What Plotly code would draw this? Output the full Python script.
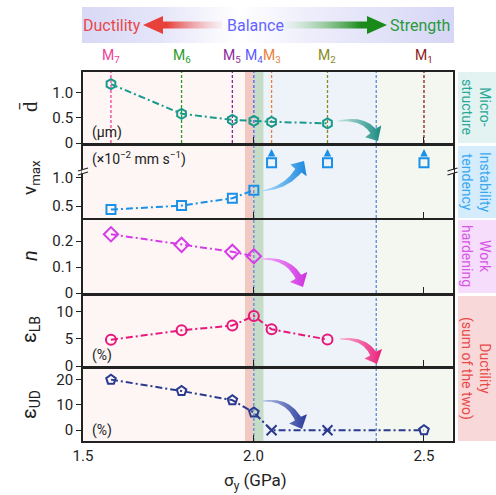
import numpy as np
import plotly.graph_objects as go

# ---------------- data ----------------
sample_labels = ["7", "6", "5", "4", "3", "2", "1"]
sample_colors = ["#f0409a", "#2a9a2a", "#8a2a9a", "#5a5aff", "#e8803a", "#8a8a1a", "#8b1a1a"]
sigma_y = [1.582, 1.789, 1.938, 2.001, 2.053, 2.217, 2.500]        # GPa, M7..M1

d_bar = [1.17, 0.58, 0.46, 0.44, 0.42, 0.39]                        # um, M7..M2
v_max = [0.44, 0.51, 0.64, 0.78]                                    # x1e-2 mm/s, M7..M4
v_max_unstable = [1.26, 1.26, 1.26]                                 # M3, M2, M1 (off-scale)
n_hard = [0.227, 0.186, 0.159, 0.142]                               # M7..M4
eps_LB = [4.87, 6.6, 7.5, 9.26, 6.8, 4.9]                           # %, M7..M2
eps_UD = [20.0, 15.5, 11.9, 7.0, 0.0, 0.0, 0.0]                     # %, M7..M1
eps_UD_symbols = ["pentagon-open"] * 4 + ["x-thin-open"] * 2 + ["pentagon-open"]

region_edges = [1.5, 1.975, 2.0, 2.03, 2.36, 2.5836]
region_colors = ["#fdf6f5", "#efc9c2", "#c4dcc8", "#eef2f9", "#f3f7ef"]
boundary_sigma = 2.36

W, H = 496, 495
FONT = "Roboto"

def px(x):
    return x / W

def py(y):
    return 1 - y / H

# panel pixel extents (top, bottom)
panels = [(72, 143), (146, 218), (220, 293), (296, 366), (369, 441)]
x_left, x_right = 83, 452.5
y_ranges = [[0, 1.41], [0.293, 1.553], [0, 0.282], [0, 12.96], [-4.25, 24.2]]
y_ticks = [[0, 0.5, 1.0], [0.5, 1.0], [0, 0.1, 0.2], [0, 5, 10], [0, 10, 20]]
y_ticktext = [["0", "0.5", "1.0"], ["0.5", "1.0"], ["0", "0.1", "0.2"], ["0", "5", "10"], ["0", "10", "20"]]

fig = go.Figure()
layout = dict(
    template="none",
    width=W, height=H, margin=dict(l=0, r=0, t=0, b=0, pad=0, autoexpand=False),
    paper_bgcolor="white", plot_bgcolor="rgba(0,0,0,0)",
    showlegend=False, font=dict(family=FONT, size=14, color="#222"),
)
for i, (top, bot) in enumerate(panels):
    k = "" if i == 0 else str(i + 1)
    layout["xaxis" + k] = dict(
        domain=[px(x_left), px(x_right)], range=[1.5, 2.5836], anchor="y" + k, automargin=False,
        tickvals=[1.5, 2.0, 2.5], ticktext=["1.5", "2.0", "2.5"], ticks="inside", ticklen=6,
        tickcolor="#222", tickwidth=1.2, showticklabels=(i == 4), showline=True, mirror=True,
        linecolor="#222", linewidth=1.6, showgrid=False, zeroline=False,
        tickfont=dict(size=15, family=FONT, color="#222"),
        matches=None if i == 0 else "x",
    )
    layout["yaxis" + k] = dict(
        domain=[py(bot), py(top)], range=y_ranges[i], anchor="x" + k, automargin=False,
        tickvals=y_ticks[i], ticktext=y_ticktext[i], ticks="outside", ticklen=5, tickwidth=1.2,
        tickcolor="#222", showline=True, mirror=True, linecolor="#222", linewidth=1.6,
        showgrid=False, zeroline=False, tickfont=dict(size=15, family=FONT, color="#222"),
    )
# overlay pixel axes
layout["xaxis6"] = dict(domain=[0, 1], range=[0, W], anchor="y6", visible=False, fixedrange=True, automargin=False)
layout["yaxis6"] = dict(domain=[0, 1], range=[H, 0], anchor="x6", visible=False, fixedrange=True, automargin=False)
fig.update_layout(**layout)

DASH = "7px,3px,2px,3px"

# ---------------- traces ----------------
fig.add_trace(go.Scatter(x=sigma_y[:6], y=d_bar, mode="lines+markers", xaxis="x", yaxis="y",
                         line=dict(color="#1a9a8c", width=2, dash=DASH),
                         marker=dict(symbol="hexagon-open", size=10, color="#1a9a8c", line=dict(width=2))))
fig.add_trace(go.Scatter(x=sigma_y[:4], y=v_max, mode="lines+markers", xaxis="x2", yaxis="y2",
                         line=dict(color="#1a90e8", width=2, dash=DASH),
                         marker=dict(symbol="square-open", size=9, color="#1a90e8", line=dict(width=2))))
fig.add_trace(go.Scatter(x=sigma_y[4:], y=v_max_unstable, mode="markers", xaxis="x2", yaxis="y2",
                         marker=dict(symbol="square-open", size=9, color="#1a90e8", line=dict(width=2))))
fig.add_trace(go.Scatter(x=sigma_y[:4], y=n_hard, mode="lines+markers", xaxis="x3", yaxis="y3",
                         line=dict(color="#d63ce8", width=2, dash=DASH),
                         marker=dict(symbol="diamond-open", size=11, color="#d63ce8", line=dict(width=2))))
fig.add_trace(go.Scatter(x=sigma_y[:6], y=eps_LB, mode="lines+markers", xaxis="x4", yaxis="y4",
                         line=dict(color="#e8177a", width=2, dash=DASH),
                         marker=dict(symbol="circle-open", size=10, color="#e8177a", line=dict(width=2))))
fig.add_trace(go.Scatter(x=sigma_y, y=eps_UD, mode="lines+markers", xaxis="x5", yaxis="y5",
                         line=dict(color="#2a3a8f", width=2, dash=DASH),
                         marker=dict(symbol=eps_UD_symbols, size=10, color="#2a3a8f", line=dict(width=2))))

# ---------------- shapes ----------------
shapes = []
for i in range(5):
    k = "" if i == 0 else str(i + 1)
    for j in range(len(region_colors)):
        shapes.append(dict(type="rect", xref="x" + k, yref="y" + k + " domain",
                           x0=region_edges[j], x1=region_edges[j + 1], y0=0, y1=1,
                           fillcolor=region_colors[j], line=dict(width=0), layer="below"))
    if i == 0:
        for xs, c in zip(sigma_y, sample_colors):
            shapes.append(dict(type="line", xref="x", yref="y domain", x0=xs, x1=xs, y0=0, y1=1,
                               line=dict(color=c, width=1.3, dash="3px,2px"), layer="below"))
    else:
        shapes.append(dict(type="line", xref="x" + k, yref="y" + k + " domain", x0=sigma_y[3], x1=sigma_y[3],
                           y0=0, y1=1, line=dict(color="#5b8bd8", width=1.3, dash="3px,2px"), layer="below"))
    shapes.append(dict(type="line", xref="x" + k, yref="y" + k + " domain", x0=boundary_sigma, x1=boundary_sigma,
                       y0=0, y1=1, line=dict(color="#5b8bd8", width=1.3, dash="3px,2px"), layer="below"))

# right-side category boxes
boxes = [(72, 143, "#e2f3f1"), (146, 218, "#d4ecfb"), (220, 293, "#f5ddfb"), (296, 441, "#f8d8d8")]
for t, b, c in boxes:
    shapes.append(dict(type="rect", xref="x6", yref="y6", x0=458, x1=496, y0=t, y1=b,
                       fillcolor=c, line=dict(width=0), layer="below"))

# axis break marks on v_max panel
for xb in (x_left, x_right):
    shapes.append(dict(type="rect", xref="x6", yref="y6", x0=xb - 1.5, x1=xb + 1.5, y0=169.5, y1=173.5,
                       fillcolor="white", line=dict(width=0), layer="above"))
    for yb in (169.5, 173.5):
        shapes.append(dict(type="line", xref="x6", yref="y6", x0=xb - 5, x1=xb + 5, y0=yb + 1.5, y1=yb - 1.5,
                           line=dict(color="#222", width=1.2), layer="above"))
fig.update_layout(shapes=shapes)

# ---------------- decorative arrows (pixel coords) ----------------
def curved_arrow(p0, c, p1, w0, w1, hl, hw):
    p0, c, p1 = map(np.array, (p0, c, p1))
    t = np.linspace(0, 1, 300)[:, None]
    pts = (1 - t) ** 2 * p0 + 2 * (1 - t) * t * c + t ** 2 * p1
    seg = np.linalg.norm(np.diff(pts, axis=0), axis=1)
    from_end = np.concatenate([np.cumsum(seg[::-1])[::-1], [0]])
    ib = np.argmax(from_end <= hl)
    body = pts[: ib + 1]
    tt = t[: ib + 1]
    d = 2 * (1 - tt) * (c - p0) + 2 * tt * (p1 - c)
    d = d / np.linalg.norm(d, axis=1)[:, None]
    nrm = np.column_stack([-d[:, 1], d[:, 0]])
    w = np.linspace(w0, w1, len(body))[:, None] / 2
    left = body + nrm * w
    right = body - nrm * w
    base = body[-1]
    hn = nrm[-1]
    poly = np.vstack([left, base + hn * hw, p1, base - hn * hw, right[::-1], left[:1]])
    return poly[:, 0], poly[:, 1]

arrows = [
    ((338, 121), (370, 116), (378, 141), "#bfe6e2", "#1a8a80"),
    ((262, 191), (292, 187), (304, 161), "#b0defa", "#1a88e0"),
    ((262, 259), (293, 257), (303, 287), "#f4b0fa", "#cf30e0"),
    ((340, 339), (371, 337), (377, 364), "#f8b0d0", "#e8207a"),
    ((263, 401), (293, 398), (302, 429), "#aebce6", "#2a3a9a"),
]
for p0, c, p1, cl, cd in arrows:
    xs, ys = curved_arrow(p0, c, p1, 1.0, 7, 11, 10)
    fig.add_trace(go.Scatter(x=xs, y=ys, xaxis="x6", yaxis="y6", mode="lines", fill="toself",
                             line=dict(width=0, color=cd),
                             fillgradient=dict(type="horizontal", colorscale=[[0, cl], [1, cd]]),
                             hoverinfo="skip"))

# banner background
fig.add_trace(go.Scatter(x=[82, 454, 454, 82, 82], y=[7, 7, 43, 43, 7], xaxis="x6", yaxis="y6",
                         mode="lines", fill="toself", line=dict(width=0, color="#dcdcf8"),
                         fillgradient=dict(type="horizontal", colorscale=[
                             [0, "#d9d9f7"], [0.2, "#e4e4f9"], [0.42, "#ffffff"], [0.62, "#ededfb"], [1, "#d6d6f6"]]),
                         hoverinfo="skip"))
# banner arrows
fig.add_trace(go.Scatter(x=[143, 163, 163, 222, 222, 163, 163, 143], y=[25, 16, 21.5, 21.5, 28.5, 28.5, 34, 25],
                         xaxis="x6", yaxis="y6", mode="lines", fill="toself", line=dict(width=0, color="#e8403a"),
                         fillgradient=dict(type="horizontal", colorscale=[
                             [0, "#e8403a"], [0.3, "#e8403a"], [1, "rgba(240,160,160,0.1)"]]),
                         hoverinfo="skip"))
fig.add_trace(go.Scatter(x=[387, 367, 367, 285, 285, 367, 367, 387], y=[25, 16, 21.5, 21.5, 28.5, 28.5, 34, 25],
                         xaxis="x6", yaxis="y6", mode="lines", fill="toself", line=dict(width=0, color="#1a8a1a"),
                         fillgradient=dict(type="horizontal", colorscale=[
                             [0, "rgba(160,220,160,0.1)"], [0.75, "#1a8a1a"], [1, "#1a8a1a"]]),
                         hoverinfo="skip"))

# ---------------- annotations ----------------
ann = []
def text(x, y, s, size=14, color="#222", angle=0, xanchor="center", yanchor="middle"):
    ann.append(dict(x=x, y=y, xref="x6", yref="y6", text=s, showarrow=False, textangle=angle,
                    xanchor=xanchor, yanchor=yanchor, font=dict(size=size, color=color, family=FONT)))

text(112, 25, "Ductility", 16, "#e84848")
text(255, 25, "Balance", 16, "#6464ff")
text(420, 25, "Strength", 16, "#2a9a3a")

# sample labels placed at each sample's sigma_y
for xs, lab, c in zip(sigma_y, sample_labels, sample_colors):
    ann.append(dict(x=xs, y=py(56), xref="x", yref="paper", text="M<sub>%s</sub>" % lab, showarrow=False,
                    xanchor="center", yanchor="middle", font=dict(size=14, color=c, family=FONT)))

# unstable arrows on v_max panel
for xs, v in zip(sigma_y[4:], v_max_unstable):
    ann.append(dict(x=xs, y=v + 0.24, ax=xs, ay=v + 0.1, xref="x2", yref="y2", axref="x2", ayref="y2",
                    text="", showarrow=True, arrowhead=2, arrowsize=1, arrowwidth=1.5, arrowcolor="#1a90e8"))

# axis titles
text(30, 107, "d\u0304", 21, "#222", -90)
text(30, 178, "v<sub>max</sub>", 19, "#222", -90)
text(30, 256, "<i>n</i>", 20, "#222", -90)
text(30, 330, "ε<sub>LB</sub>", 20, "#222", -90)
text(30, 405, "ε<sub>UD</sub>", 20, "#222", -90)
text(255, 481, "σ<sub>y</sub> (GPa)", 17)

# unit labels
text(90, 132, "(μm)", 14, "#222", xanchor="left")
text(90, 158, "(×10<sup>−2</sup> mm s<sup>−1</sup>)", 14, "#222", xanchor="left")
text(90, 355, "(%)", 14, "#222", xanchor="left")
text(90, 430, "(%)", 14, "#222", xanchor="left")

# right-side category labels
text(476, 107, "Micro-<br>structure", 14, "#2aa898", 90)
text(476, 182, "Instability<br>tendency", 14, "#3aa8f0", 90)
text(476, 256, "Work<br>hardening", 14, "#d855e8", 90)
text(476, 368, "Ductility<br>(sum of the two)", 14, "#e84a4a", 90)

fig.update_layout(annotations=ann)
fig.write_html("out.html")
